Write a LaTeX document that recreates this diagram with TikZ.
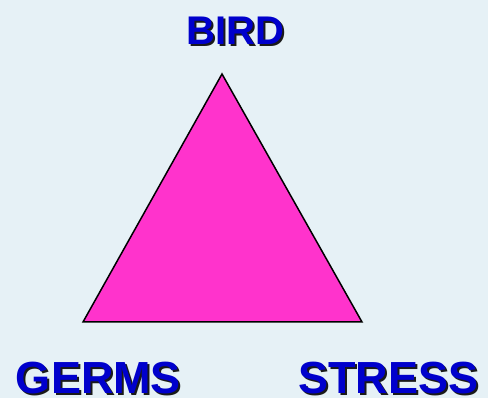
\documentclass[tikz,border=0pt]{standalone}
\usepackage{fontspec}
\setmainfont{Liberation Sans}
\definecolor{bg}{HTML}{E6F1F6}
\definecolor{tri}{HTML}{FF33CC}
\definecolor{lbl}{HTML}{0000CC}
\definecolor{shd}{HTML}{1A1A1A}
\tikzset{
  lblsmall/.style={inner sep=0pt, anchor=base, text=lbl, font=\bfseries\fontsize{40}{40}\selectfont},
  lblbig/.style={inner sep=0pt, anchor=base, text=lbl, font=\bfseries\fontsize{45}{45}\selectfont},
  shadow/.style={text=shd},
}
\begin{document}
\begin{tikzpicture}[x=1pt,y=-1pt]
\fill[bg] (0,0) rectangle (488,398);
\useasboundingbox (0,0) rectangle (488,398);
\coordinate (A) at (222,74);
\coordinate (B) at (83,322);
\coordinate (C) at (362,322);
\draw[fill=tri, line width=1.5pt, line join=miter] (A) -- (B) -- (C) -- cycle;
\node[lblsmall, shadow] (birds) at (237.5,47) {BIRD};
\node[lblsmall] (bird) at (235.5,45) {BIRD};
\node[lblbig, shadow] (germss) at (100.5,396) {GERMS};
\node[lblbig] (germs) at (98.5,394) {GERMS};
\node[lblbig, shadow] (stresss) at (390.5,396) {STRESS};
\node[lblbig] (stress) at (388.5,394) {STRESS};
\end{tikzpicture}
\end{document}
